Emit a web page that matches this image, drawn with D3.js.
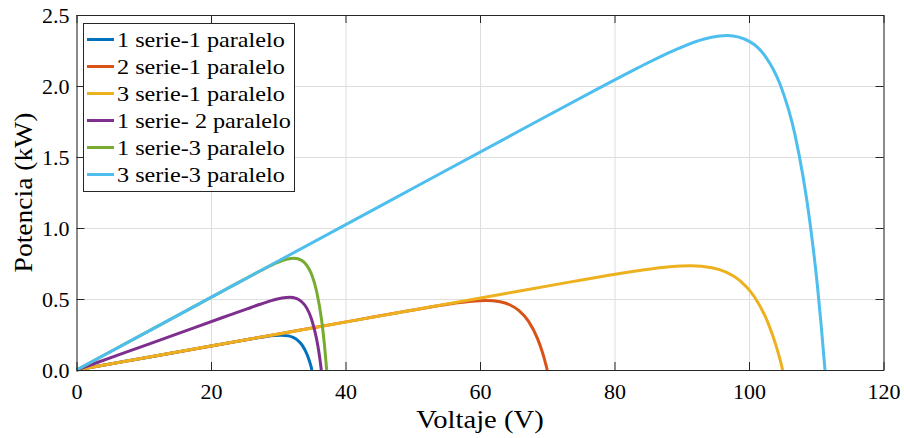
<!DOCTYPE html>
<html>
<head>
<meta charset="utf-8">
<script src="https://cdn.jsdelivr.net/npm/d3@7"></script>
<style>
  body { margin: 0; background: #fff; }
  svg { display: block; font-family: "Liberation Serif", "DejaVu Serif", serif; }
</style>
</head>
<body>
<svg id="chart" width="904" height="438"></svg>
<script>
// Series (voltage in V, power in kW)
var seriesNames = ["1 serie-1 paralelo", "2 serie-1 paralelo", "3 serie-1 paralelo",
                   "1 serie- 2 paralelo", "1 serie-3 paralelo", "3 serie-3 paralelo"];
var seriesColors = ["#0072BD", "#D95319", "#EDB120", "#7E2F8E", "#77AC30", "#4DBEEE"];

var v1s1p = [0, 7, 14, 21, 24.5, 26.25, 28, 29.4, 30.45, 31.5, 32.2, 32.9, 33.6, 34.3, 34.65, 34.83, 35];
var p1s1p = [0, 0.0592, 0.1183, 0.1775, 0.2069, 0.2212, 0.2344, 0.2425, 0.2448, 0.2402, 0.2298, 0.2092, 0.1719, 0.1078, 0.0608, 0.0323, 0];

var v2s1p = [0, 14, 28, 42, 49, 52.5, 56, 58.8, 60.9, 63, 64.4, 65.8, 67.2, 68.6, 69.3, 69.65, 70];
var p2s1p = [0, 0.1183, 0.2366, 0.3549, 0.4136, 0.4423, 0.4687, 0.4849, 0.4896, 0.4803, 0.4595, 0.4182, 0.3438, 0.2156, 0.1215, 0.0647, 0];

var v3s1p = [0, 21, 42, 63, 73.5, 78.75, 84, 88.2, 91.35, 94.5, 96.6, 98.7, 100.8, 102.9, 103.95, 104.48, 105];
var p3s1p = [0, 0.1775, 0.3549, 0.5324, 0.6205, 0.6635, 0.7031, 0.7273, 0.7344, 0.7205, 0.6893, 0.6274, 0.5158, 0.3234, 0.1823, 0.0970, 0];

var v1s2p = [0, 7.28, 14.56, 21.84, 25.48, 27.3, 29.12, 30.58, 31.67, 32.76, 33.49, 34.22, 34.94, 35.67, 36.04, 36.22, 36.4];
var p1s2p = [0, 0.1238, 0.2475, 0.3713, 0.4327, 0.4627, 0.4903, 0.5072, 0.5122, 0.5025, 0.4807, 0.4375, 0.3597, 0.2255, 0.1271, 0.0676, 0];

var v1s3p = [0, 7.44, 14.88, 22.32, 26.04, 27.9, 29.76, 31.25, 32.36, 33.48, 34.22, 34.97, 35.71, 36.46, 36.83, 37.01, 37.2];
var p1s3p = [0, 0.1902, 0.3805, 0.5707, 0.6652, 0.7113, 0.7537, 0.7797, 0.7873, 0.7724, 0.7390, 0.6726, 0.5529, 0.3467, 0.1954, 0.1040, 0];

var v3s3p = [0, 22.26, 44.52, 66.78, 77.91, 83.48, 89.04, 93.49, 96.83, 100.17, 102.4, 104.62, 106.85, 109.07, 110.19, 110.74, 111.3];
var p3s3p = [0, 0.5692, 1.1384, 1.7076, 1.9902, 2.1282, 2.2552, 2.3329, 2.3556, 2.3110, 2.2110, 2.0124, 1.6544, 1.0374, 0.5846, 0.3111, 0];

var xTicks = [0, 20, 40, 60, 80, 100, 120];
var yTicks = [0, 0.5, 1.0, 1.5, 2.0, 2.5];

var allV = [v1s1p, v2s1p, v3s1p, v1s2p, v1s3p, v3s3p];
var allP = [p1s1p, p2s1p, p3s1p, p1s2p, p1s3p, p3s3p];

var svg = d3.select("#chart");
var plotLeft = 76.5, plotRight = 883.5, plotTop = 15, plotBottom = 370;
var axisColor = "#262626",
    gridColor = "#dedede";

var x = d3.scaleLinear().domain([0, 120]).range([plotLeft, plotRight]);
var y = d3.scaleLinear().domain([0, 2.5]).range([plotBottom, plotTop]);

// Grid
svg.append("g")
    .attr("class", "grid")
    .attr("transform", `translate(0,${plotBottom})`)
    .call(d3.axisBottom(x).tickValues(xTicks).tickSize(-(plotBottom - plotTop)).tickFormat(""));

svg.append("g")
    .attr("class", "grid")
    .attr("transform", `translate(${plotLeft},0)`)
    .call(d3.axisLeft(y).tickValues(yTicks).tickSize(-(plotRight - plotLeft)).tickFormat(""));

svg.selectAll(".grid .domain").remove();
svg.selectAll(".grid line").attr("stroke", gridColor);

// Curves
var line = d3.line()
    .x(d => x(d[0]))
    .y(d => y(d[1]))
    .curve(d3.curveMonotoneX);

seriesNames.forEach(function (name, i) {
    var pts = allV[i].map((v, j) => [v, allP[i][j]]);
    svg.append("path")
        .datum(pts)
        .attr("fill", "none")
        .attr("stroke", seriesColors[i])
        .attr("stroke-width", 3)
        .attr("stroke-linejoin", "round")
        .attr("d", line);
});

// Axes (ticks pointing inward on all four sides)
var xAxis = svg.append("g")
    .attr("class", "axis")
    .attr("transform", `translate(0,${plotBottom})`)
    .call(d3.axisBottom(x).tickValues(xTicks).tickSizeInner(-8).tickSizeOuter(0));
xAxis.selectAll("text").attr("y", 29).attr("dy", 0);

var yAxis = svg.append("g")
    .attr("class", "axis")
    .attr("transform", `translate(${plotLeft},0)`)
    .call(d3.axisLeft(y).tickValues(yTicks).tickSizeInner(-8).tickSizeOuter(0).tickFormat(d3.format(".1f")));
yAxis.selectAll("text").attr("x", -7).attr("dy", "0.33em");

svg.append("g")
    .attr("class", "axis")
    .attr("transform", `translate(0,${plotTop})`)
    .call(d3.axisTop(x).tickValues(xTicks).tickSizeInner(-8).tickSizeOuter(0).tickFormat(""));

svg.append("g")
    .attr("class", "axis")
    .attr("transform", `translate(${plotRight},0)`)
    .call(d3.axisRight(y).tickValues(yTicks).tickSizeInner(-8).tickSizeOuter(0).tickFormat(""));

svg.selectAll(".axis text")
    .attr("font-family", "Liberation Serif, serif")
    .attr("font-size", 22)
    .attr("fill", "#000");
svg.selectAll(".axis .domain, .axis line").attr("stroke", axisColor);

// Axis labels (the reference face is a little wider than Liberation Serif)
svg.append("text")
    .attr("transform", `translate(${(plotLeft + plotRight) / 2},428) scale(1.1,1)`)
    .attr("text-anchor", "middle")
    .attr("font-size", 26)
    .text("Voltaje (V)");

svg.append("text")
    .attr("transform", `translate(32,${(plotTop + plotBottom) / 2}) rotate(-90) scale(1.06,1)`)
    .attr("text-anchor", "middle")
    .attr("font-size", 26)
    .text("Potencia (kW)");

// Legend
var legend = svg.append("g");
legend.append("rect")
    .attr("x", 83.5)
    .attr("y", 23.5)
    .attr("width", 211)
    .attr("height", 168)
    .attr("fill", "#fff")
    .attr("stroke", axisColor);

var entry = legend.selectAll(".legend")
    .data(seriesNames)
    .enter().append("g")
    .attr("class", "legend")
    .attr("transform", (d, i) => `translate(0,${39.5 + i * 27})`);

entry.append("line")
    .attr("x1", 87).attr("x2", 114)
    .attr("y1", 0).attr("y2", 0)
    .attr("stroke", (d, i) => seriesColors[i])
    .attr("stroke-width", 3);

entry.append("text")
    .attr("transform", "translate(117,0) scale(1.1,1)")
    .attr("dy", "0.33em")
    .attr("font-size", 22)
    .text(d => d);
</script>
</body>
</html>
